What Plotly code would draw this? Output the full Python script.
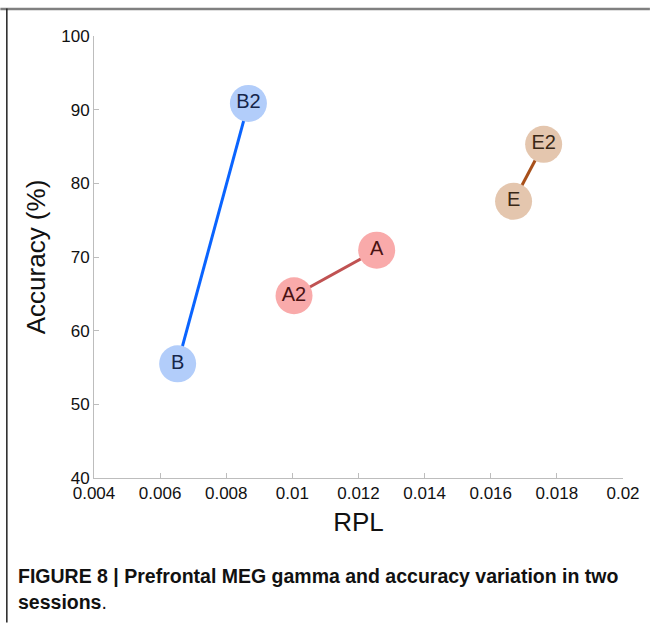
import plotly.graph_objects as go

# Data
b_labels = ["B", "B2"]
b_rpl = [0.00653, 0.00867]
b_acc = [55.5, 90.85]

a_labels = ["A2", "A"]
a_rpl = [0.01005, 0.01255]
a_acc = [64.74, 70.93]

e_labels = ["E", "E2"]
e_rpl = [0.01669, 0.0176]
e_acc = [77.57, 85.3]

x_ticks = [0.004, 0.006, 0.008, 0.01, 0.012, 0.014, 0.016, 0.018, 0.02]
x_tick_text = ["0.004", "0.006", "0.008", "0.01", "0.012", "0.014", "0.016", "0.018", "0.02"]
y_ticks = [40, 50, 60, 70, 80, 90, 100]

series = [
    (b_labels, b_rpl, b_acc, "#b2cdfa", "#0a64ff", "#16264a"),
    (a_labels, a_rpl, a_acc, "#f9aaaa", "#c05252", "#4a1212"),
    (e_labels, e_rpl, e_acc, "#e4c6ae", "#a8501a", "#3a2816"),
]

fig = go.Figure()
for labels, xs, ys, fill, line, txt in series:
    fig.add_trace(go.Scatter(
        x=xs, y=ys, text=labels,
        mode="lines+markers+text",
        textposition="middle center",
        line=dict(color=line, width=3),
        marker=dict(size=37, color=fill, line=dict(width=0)),
        textfont=dict(family="Liberation Sans, Arial, sans-serif", size=20, color=txt),
        showlegend=False, hoverinfo="skip",
    ))

W, H = 652, 623
L, R, T, B = 94, 27, 35.5, 144.7
pw, ph = W - L - R, H - T - B

def px_to_paper_x(px):
    return (px - L) / pw

def py_to_paper_y(py):
    return (H - B - py) / ph

axis_font = dict(family="Liberation Sans, Arial, sans-serif", size=17, color="#111")
title_font = dict(family="Liberation Sans, Arial, sans-serif", size=26, color="#111")
cap_font = dict(family="Liberation Sans Narrow, Arial Narrow, Liberation Sans, Arial", size=19.5, color="#111")

fig.update_layout(
    width=W, height=H, autosize=False,
    margin=dict(l=L, r=R, t=T, b=B),
    paper_bgcolor="white", plot_bgcolor="white",
    xaxis=dict(
        range=[0.004, 0.02], tickvals=x_ticks, ticktext=x_tick_text,
        showgrid=False, zeroline=False, showline=True, linecolor="#bdbdbd", linewidth=1,
        ticks="inside", ticklen=5, tickcolor="#bdbdbd", tickfont=axis_font,
        title=dict(text="RPL", font=title_font, standoff=10),
    ),
    yaxis=dict(
        range=[40, 100], tickvals=y_ticks,
        showgrid=False, zeroline=False, showline=True, linecolor="#bdbdbd", linewidth=1,
        ticks="inside", ticklen=5, tickcolor="#bdbdbd", tickfont=axis_font,
        title=dict(text="Accuracy (%)", font=title_font, standoff=8),
    ),
    shapes=[
        dict(type="line", xref="paper", yref="paper",
             x0=px_to_paper_x(0), x1=px_to_paper_x(W), y0=py_to_paper_y(8.5), y1=py_to_paper_y(8.5),
             line=dict(color="#808080", width=2.5)),
        dict(type="line", xref="paper", yref="paper",
             x0=px_to_paper_x(6.5), x1=px_to_paper_x(6.5), y0=py_to_paper_y(8), y1=py_to_paper_y(H),
             line=dict(color="#222222", width=1.5)),
    ],
    annotations=[
        dict(xref="paper", yref="paper", x=px_to_paper_x(16), y=py_to_paper_y(576),
             xanchor="left", yanchor="middle", showarrow=False,
             text="<b>FIGURE 8 | Prefrontal MEG gamma and accuracy variation in two</b>",
             font=cap_font),
        dict(xref="paper", yref="paper", x=px_to_paper_x(16), y=py_to_paper_y(603),
             xanchor="left", yanchor="middle", showarrow=False,
             text="<b>sessions</b>.",
             font=cap_font),
    ],
)

fig.write_html("out.html", config={"displayModeBar": False},
               post_script="document.body.style.margin='0px';document.body.style.overflow='hidden';")
